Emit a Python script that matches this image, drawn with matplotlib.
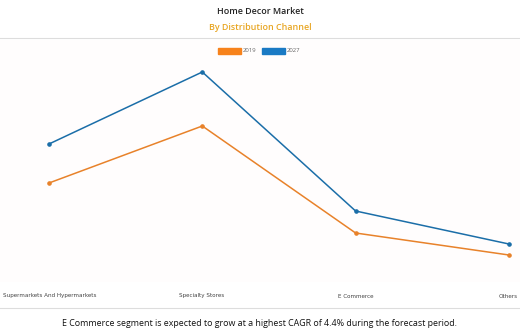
import matplotlib
matplotlib.use("Agg")
import matplotlib.pyplot as plt
from matplotlib.patches import Rectangle

# data (arbitrary units)
channels = ['Supermarkets And Hypermarkets', 'Specialty Stores', 'E Commerce', 'Others']
val_2019 = [99, 156, 49, 27]
val_2027 = [138, 210, 71, 38]

orange = '#e8822a'
blue = '#1b6ea8'

plt.rcParams['font.family'] = ['Open Sans', 'DejaVu Sans']

fig = plt.figure(figsize=(5.2, 3.3), dpi=100)
fig.patch.set_facecolor('white')

# plot area
ax = fig.add_axes([0, 48 / 330, 1, 242 / 330])
ax.set_facecolor('#fffdfd')
x = range(len(channels))
ax.plot(x, val_2019, color=orange, lw=1.1, marker='o', ms=2.3)
ax.plot(x, val_2027, color=blue, lw=1.1, marker='o', ms=2.3)
ax.set_xlim(-49 / 153.3, (520 - 49) / 153.3)
ax.set_ylim(0, 242)
for s in ax.spines.values():
    s.set_visible(False)
ax.set_yticks([])
ax.set_xticks([])

# category labels
label_x = [3, 202, 356, 518]
label_ha = ['left', 'center', 'center', 'right']
for lx, ha, name in zip(label_x, label_ha, channels):
    fig.text(lx / 520, 1 - 296 / 330, name, ha=ha, va='center',
             fontsize=4.1, color='#444444', family=['DejaVu Sans'])

# titles
fig.text(0.5, 1 - 12 / 330, 'Home Decor Market', ha='center', va='center',
         fontsize=6.4, color='#222222', fontweight='semibold')
fig.text(0.5, 1 - 27 / 330, 'By Distribution Channel', ha='center', va='center',
         fontsize=6.4, color='#e8a623', fontweight='semibold')

# separator lines
fig.add_artist(plt.Line2D([0, 1], [1 - 38 / 330] * 2, color='#dddddd', lw=0.8))
fig.add_artist(plt.Line2D([0, 1], [1 - 308 / 330] * 2, color='#dddddd', lw=0.8))

# legend
fig.add_artist(Rectangle((218 / 520, 1 - 54 / 330), 23 / 520, 6 / 330,
                         color='#f7821b', transform=fig.transFigure))
fig.text(243 / 520, 1 - 51 / 330, '2019', va='center', fontsize=4.3, color='#666666')
fig.add_artist(Rectangle((262 / 520, 1 - 54 / 330), 23 / 520, 6 / 330,
                         color='#1a7ac4', transform=fig.transFigure))
fig.text(287 / 520, 1 - 51 / 330, '2027', va='center', fontsize=4.3, color='#666666')

# footer
fig.text(0.5, 1 - 323 / 330,
         'E Commerce segment is expected to grow at a highest CAGR of 4.4% during the forecast period.',
         ha='center', va='center', fontsize=6.4, color='#111111')

fig.savefig('out.png', dpi=100)
